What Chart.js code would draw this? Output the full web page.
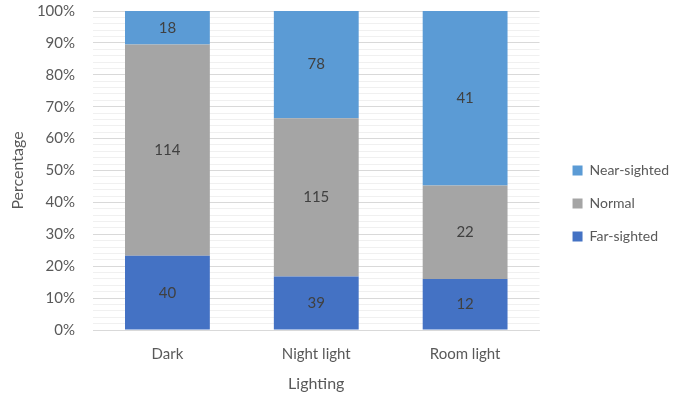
<!DOCTYPE html>
<html>
<head>
<meta charset="utf-8">
<script src="https://cdn.jsdelivr.net/npm/chart.js@4/dist/chart.umd.min.js"></script>
<style>
html,body{margin:0;padding:0;background:#fff;}
#wrap{width:687px;height:403px;}
</style>
</head>
<body>
<div id="wrap"><canvas id="c" width="687" height="403"></canvas></div>
<script>
const categories = ["Dark", "Night light", "Room light"];
const farSighted = [40, 39, 12];
const normal = [114, 115, 22];
const nearSighted = [18, 78, 41];
const seriesNames = ["Far-sighted", "Normal", "Near-sighted"];
const seriesColors = ["#4472C4", "#A5A5A5", "#5B9BD5"];

const totals = categories.map((_, i) => farSighted[i] + normal[i] + nearSighted[i]);
const pct = arr => arr.map((v, i) => v / totals[i] * 100);

const FONT = "Lato, 'Open Sans', sans-serif";

const labelPlugin = {
  id: 'barLabels',
  afterDatasetsDraw(chart) {
    const ctx = chart.ctx;
    ctx.save();
    ctx.font = "15px " + FONT;
    ctx.fillStyle = "#404040";
    ctx.textAlign = "center";
    ctx.textBaseline = "middle";
    chart.data.datasets.forEach((ds, di) => {
      const meta = chart.getDatasetMeta(di);
      meta.data.forEach((bar, i) => {
        const p = bar.getProps(['x', 'y', 'base'], true);
        ctx.fillText(String(ds.raw[i]), p.x, (p.y + p.base) / 2);
      });
    });
    ctx.restore();
  }
};

const legendShift = {
  id: 'legendShift',
  afterLayout(chart) {
    const lg = chart.legend;
    if (!lg) return;
    lg.left += 14; lg.right += 14;
    lg.top += 5; lg.bottom += 5;
  }
};

new Chart(document.getElementById('c'), {
  type: 'bar',
  data: {
    labels: categories,
    datasets: [
      { label: seriesNames[0], data: pct(farSighted), raw: farSighted, backgroundColor: seriesColors[0] },
      { label: seriesNames[1], data: pct(normal), raw: normal, backgroundColor: seriesColors[1] },
      { label: seriesNames[2], data: pct(nearSighted), raw: nearSighted, backgroundColor: seriesColors[2] }
    ]
  },
  options: {
    responsive: false,
    animation: false,
    layout: { padding: { top: 0, right: 22, left: 4, bottom: 6 } },
    datasets: { bar: { categoryPercentage: 1.0, barPercentage: 0.57 } },
    plugins: {
      legend: {
        position: 'right',
        reverse: true,
        labels: {
          boxWidth: 10, boxHeight: 10, padding: 19,
          color: "#595959",
          font: { family: FONT, size: 14 }
        }
      },
      tooltip: { enabled: false }
    },
    scales: {
      x: {
        stacked: true,
        afterFit: s => { s.height = 67; },
        grid: { display: false, drawTicks: false },
        border: { display: true, color: "#d9d9d9", width: 1 },
        ticks: { color: "#595959", font: { family: FONT, size: 15 }, padding: 15 },
        title: { display: true, text: "Lighting", color: "#595959", font: { family: FONT, size: 16 }, padding: { top: 4, bottom: 4 } }
      },
      y: {
        stacked: true,
        min: 0, max: 100,
        afterFit: s => { s.width = 89; s.paddingTop = Math.max(0, s.paddingTop - 2); },
        ticks: {
          stepSize: 2,
          autoSkip: false,
          color: "#595959",
          font: { family: FONT, size: 15 },
          padding: 4,
          callback: v => (Math.round(v) % 10 === 0 ? Math.round(v) + "%" : "")
        },
        grid: {
          drawTicks: true,
          tickLength: 14,
          tickColor: "rgba(0,0,0,0)",
          color: c => (Math.round(c.tick.value) % 10 === 0 ? "#d9d9d9" : "#f0f0f0"),
          lineWidth: 1
        },
        border: { display: false },
        title: { display: true, text: "Percentage", color: "#595959", font: { family: FONT, size: 16 }, padding: { top: 4, bottom: 0 } }
      }
    }
  },
  plugins: [labelPlugin, legendShift]
});
</script>
</body>
</html>
